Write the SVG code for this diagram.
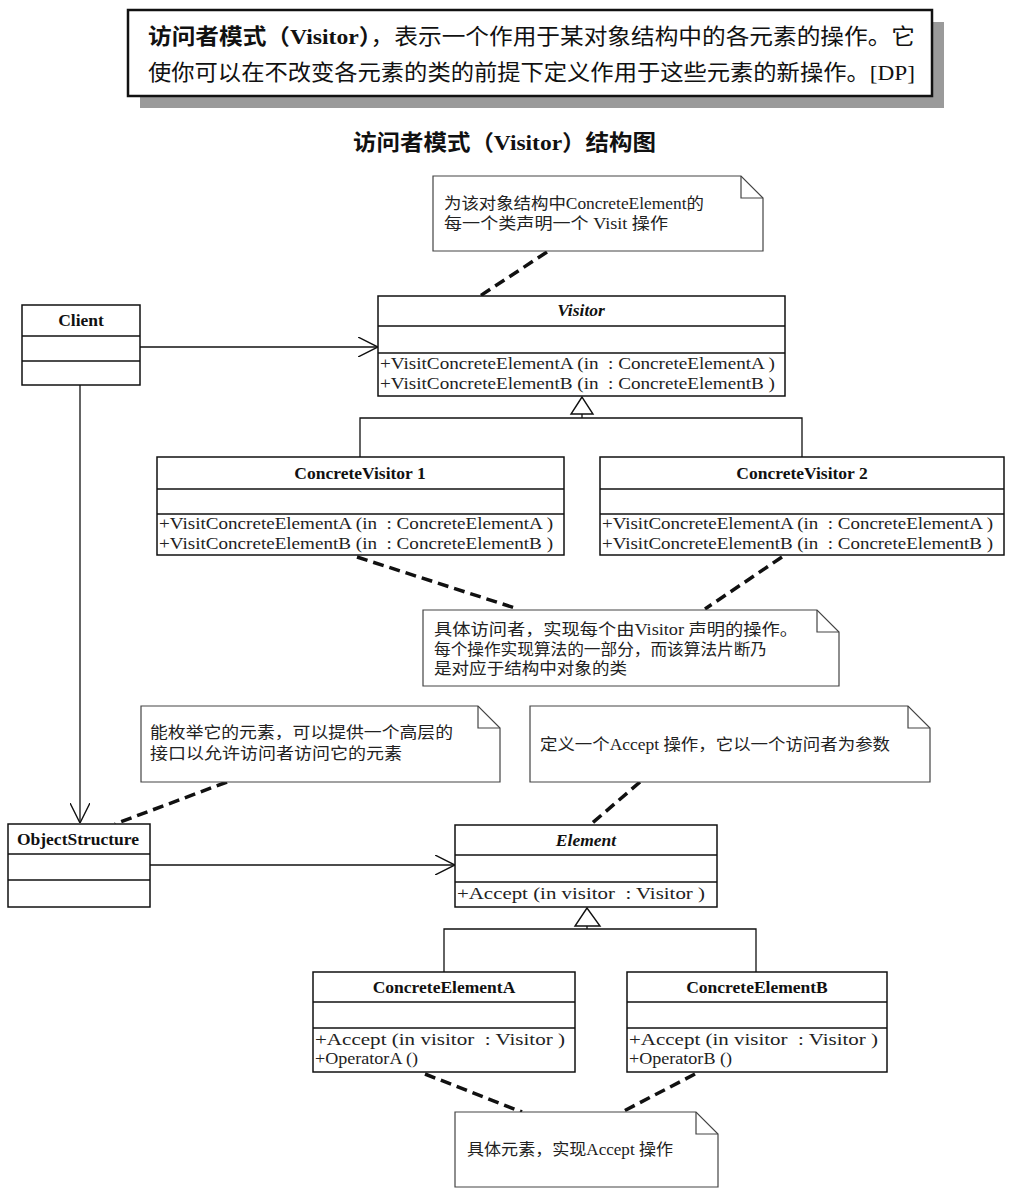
<svg xmlns="http://www.w3.org/2000/svg" width="1018" height="1203" viewBox="0 0 1018 1203">
<defs>
<style>
.cls{fill:#fff;stroke:#111;stroke-width:1.5}
.div{stroke:#111;stroke-width:1.3;fill:none}
.note{fill:#fff;stroke:#444;stroke-width:1.2}
.fold{fill:none;stroke:#444;stroke-width:1.2}
.dash{stroke:#111;stroke-width:3.5;stroke-dasharray:11 6;fill:none}
.line{stroke:#111;stroke-width:1.3;fill:none}
.tri{fill:#fff;stroke:#111;stroke-width:1.4}
.title{font-family:"Liberation Serif","Noto Sans CJK SC",serif;font-weight:bold;font-size:17.5px;fill:#111;text-anchor:middle}
.op{font-family:"Liberation Serif","Noto Sans CJK SC",serif;font-size:17px;fill:#222}
.nt{font-family:"Liberation Serif","Noto Sans CJK SC",serif;font-size:16px;fill:#222}
.hd{font-family:"Liberation Serif","Noto Sans CJK SC",serif;font-size:22px;fill:#111}
</style>
<marker id="open" viewBox="0 0 20 20" refX="20" refY="10" markerWidth="20" markerHeight="20" markerUnits="userSpaceOnUse" orient="auto">
<path d="M0,0 L20,10 L0,20" fill="none" stroke="#111" stroke-width="1.4"/>
</marker>
</defs>
<rect width="1018" height="1203" fill="#fff"/>

<g id="definition">
<rect x="140" y="22" width="804" height="86" fill="#9a9a9a"/>
<rect x="128" y="10" width="804" height="86" fill="#fff" stroke="#111" stroke-width="2.5"/>
<text class="hd" x="148" y="44" textLength="767" lengthAdjust="spacingAndGlyphs"><tspan font-weight="bold">访问者模式（Visitor）</tspan>，表示一个作用于某对象结构中的各元素的操作。它</text>
<text class="hd" x="148" y="80" textLength="767" lengthAdjust="spacingAndGlyphs">使你可以在不改变各元素的类的前提下定义作用于这些元素的新操作。[DP]</text>
</g>

<g id="heading">
<text class="hd" x="353" y="150" font-weight="bold" font-size="20" textLength="303" lengthAdjust="spacingAndGlyphs">访问者模式（Visitor）结构图</text>
</g>

<g id="connectors">
<line class="dash" x1="547" y1="252" x2="480" y2="296"/>
<line class="line" x1="140" y1="347" x2="378" y2="347" marker-end="url(#open)"/>
<line class="line" x1="80" y1="385" x2="80" y2="823" marker-end="url(#open)"/>
<polygon class="tri" points="582,397 571,414 593,414"/>
<polyline class="line" points="582,414 582,418"/>
<polyline class="line" points="360,457 360,418 802,418 802,457"/>
<line class="dash" x1="357" y1="557" x2="518" y2="609"/>
<line class="dash" x1="782" y1="557" x2="705" y2="609"/>
<line class="dash" x1="227" y1="782" x2="115" y2="824"/>
<line class="dash" x1="640" y1="782" x2="590" y2="825"/>
<line class="line" x1="150" y1="865" x2="455" y2="865" marker-end="url(#open)"/>
<polygon class="tri" points="587,908 575,926 600,926"/>
<polyline class="line" points="587,926 587,929"/>
<polyline class="line" points="444,972 444,929 756,929 756,972"/>
<line class="dash" x1="425" y1="1074" x2="522" y2="1112"/>
<line class="dash" x1="695" y1="1074" x2="622" y2="1112"/>
</g>

<g id="note-visitor">
<path class="note" d="M433,176 L741,176 L763,198 L763,251 L433,251 Z"/>
<path class="fold" d="M741,176 L741,198 L763,198"/>
<text class="nt" x="444" y="209" textLength="260" lengthAdjust="spacingAndGlyphs">为该对象结构中ConcreteElement的</text>
<text class="nt" x="444" y="229" textLength="224" lengthAdjust="spacingAndGlyphs">每一个类声明一个 Visit 操作</text>
</g>

<g id="client">
<rect class="cls" x="22" y="305" width="118" height="80"/>
<line class="div" x1="22" y1="336" x2="140" y2="336"/>
<line class="div" x1="22" y1="361" x2="140" y2="361"/>
<text class="title" x="81" y="326">Client</text>
</g>

<g id="visitor">
<rect class="cls" x="378" y="296" width="407" height="100"/>
<line class="div" x1="378" y1="326" x2="785" y2="326"/>
<line class="div" x1="378" y1="353" x2="785" y2="353"/>
<text class="title" x="581" y="316" font-style="italic">Visitor</text>
<text class="op" xml:space="preserve" x="380" y="369" textLength="395" lengthAdjust="spacingAndGlyphs">+VisitConcreteElementA (in  : ConcreteElementA )</text>
<text class="op" xml:space="preserve" x="380" y="389" textLength="395" lengthAdjust="spacingAndGlyphs">+VisitConcreteElementB (in  : ConcreteElementB )</text>
</g>

<g id="concrete-visitor-1">
<rect class="cls" x="157" y="457" width="407" height="98"/>
<line class="div" x1="157" y1="489" x2="564" y2="489"/>
<line class="div" x1="157" y1="514" x2="564" y2="514"/>
<text class="title" x="360" y="479">ConcreteVisitor 1</text>
<text class="op" xml:space="preserve" x="159" y="529" textLength="394" lengthAdjust="spacingAndGlyphs">+VisitConcreteElementA (in  : ConcreteElementA )</text>
<text class="op" xml:space="preserve" x="159" y="549" textLength="394" lengthAdjust="spacingAndGlyphs">+VisitConcreteElementB (in  : ConcreteElementB )</text>
</g>

<g id="concrete-visitor-2">
<rect class="cls" x="600" y="457" width="404" height="98"/>
<line class="div" x1="600" y1="489" x2="1004" y2="489"/>
<line class="div" x1="600" y1="514" x2="1004" y2="514"/>
<text class="title" x="802" y="479">ConcreteVisitor 2</text>
<text class="op" xml:space="preserve" x="602" y="529" textLength="391" lengthAdjust="spacingAndGlyphs">+VisitConcreteElementA (in  : ConcreteElementA )</text>
<text class="op" xml:space="preserve" x="602" y="549" textLength="391" lengthAdjust="spacingAndGlyphs">+VisitConcreteElementB (in  : ConcreteElementB )</text>
</g>

<g id="note-concrete-visitor">
<path class="note" d="M423,610 L817,610 L839,632 L839,686 L423,686 Z"/>
<path class="fold" d="M817,610 L817,632 L839,632"/>
<text class="nt" x="434" y="635" textLength="364" lengthAdjust="spacingAndGlyphs">具体访问者，实现每个由Visitor 声明的操作。</text>
<text class="nt" x="434" y="655" textLength="333" lengthAdjust="spacingAndGlyphs">每个操作实现算法的一部分，而该算法片断乃</text>
<text class="nt" x="434" y="674" textLength="193" lengthAdjust="spacingAndGlyphs">是对应于结构中对象的类</text>
</g>

<g id="note-object-structure">
<path class="note" d="M141,706 L478,706 L500,728 L500,782 L141,782 Z"/>
<path class="fold" d="M478,706 L478,728 L500,728"/>
<text class="nt" x="150" y="738" textLength="303" lengthAdjust="spacingAndGlyphs">能枚举它的元素，可以提供一个高层的</text>
<text class="nt" x="150" y="759" textLength="252" lengthAdjust="spacingAndGlyphs">接口以允许访问者访问它的元素</text>
</g>

<g id="note-element">
<path class="note" d="M530,706 L908,706 L930,728 L930,782 L530,782 Z"/>
<path class="fold" d="M908,706 L908,728 L930,728"/>
<text class="nt" x="540" y="750" textLength="350" lengthAdjust="spacingAndGlyphs">定义一个Accept 操作，它以一个访问者为参数</text>
</g>

<g id="object-structure">
<rect class="cls" x="8" y="824" width="142" height="83"/>
<line class="div" x1="8" y1="854" x2="150" y2="854"/>
<line class="div" x1="8" y1="880" x2="150" y2="880"/>
<text class="title" x="78" y="845">ObjectStructure</text>
</g>

<g id="element">
<rect class="cls" x="455" y="825" width="262" height="82"/>
<line class="div" x1="455" y1="855" x2="717" y2="855"/>
<line class="div" x1="455" y1="882" x2="717" y2="882"/>
<text class="title" x="586" y="846" font-style="italic">Element</text>
<text class="op" xml:space="preserve" x="457" y="899" textLength="248" lengthAdjust="spacingAndGlyphs">+Accept (in visitor  : Visitor )</text>
</g>

<g id="concrete-element-a">
<rect class="cls" x="313" y="972" width="262" height="100"/>
<line class="div" x1="313" y1="1002" x2="575" y2="1002"/>
<line class="div" x1="313" y1="1028" x2="575" y2="1028"/>
<text class="title" x="444" y="993">ConcreteElementA</text>
<text class="op" xml:space="preserve" x="315" y="1045" textLength="250" lengthAdjust="spacingAndGlyphs">+Accept (in visitor  : Visitor )</text>
<text class="op" xml:space="preserve" x="315" y="1064" textLength="103" lengthAdjust="spacingAndGlyphs">+OperatorA ()</text>
</g>

<g id="concrete-element-b">
<rect class="cls" x="627" y="972" width="260" height="100"/>
<line class="div" x1="627" y1="1002" x2="887" y2="1002"/>
<line class="div" x1="627" y1="1028" x2="887" y2="1028"/>
<text class="title" x="757" y="993">ConcreteElementB</text>
<text class="op" xml:space="preserve" x="629" y="1045" textLength="249" lengthAdjust="spacingAndGlyphs">+Accept (in visitor  : Visitor )</text>
<text class="op" xml:space="preserve" x="629" y="1064" textLength="103" lengthAdjust="spacingAndGlyphs">+OperatorB ()</text>
</g>

<g id="note-concrete-element">
<path class="note" d="M455,1112 L696,1112 L718,1134 L718,1187 L455,1187 Z"/>
<path class="fold" d="M696,1112 L696,1134 L718,1134"/>
<text class="nt" x="467" y="1155" textLength="206" lengthAdjust="spacingAndGlyphs">具体元素，实现Accept 操作</text>
</g>
</svg>
